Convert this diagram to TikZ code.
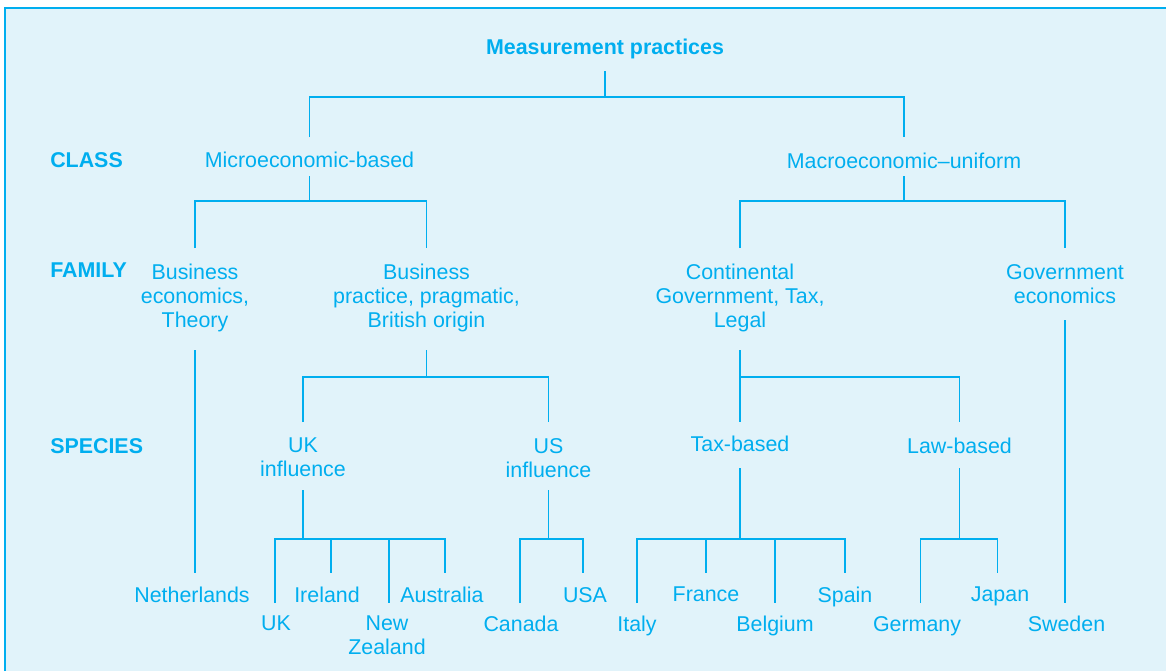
\documentclass[tikz,border=0pt]{standalone}
\usepackage{fontspec}
\setmainfont{Liberation Sans}
\definecolor{ink}{HTML}{00AEEF}
\definecolor{panel}{HTML}{E1F3FA}
\newcommand\diafont{\fontsize{16.05}{18}\selectfont}
\begin{document}
\begin{tikzpicture}[x=0.75pt,y=-0.75pt,
  lbl/.style={anchor=north, inner sep=0pt, align=center, text=ink, font=\diafont},
  head/.style={lbl, font=\diafont\bfseries},
  rank/.style={anchor=north west, inner sep=0pt, text=ink, font=\diafont\bfseries},
  link/.style={draw=ink, line width=0.9pt}]
\useasboundingbox (0,0) rectangle (1166,671);
% panel
\fill[panel] (5,8) rectangle (1166,671);
\draw[ink, line width=1pt] (5,671) -- (5,8) -- (1166,8);

% rank labels
\node[rank] (rclass)   at (50,152) {CLASS};
\node[rank] (rfamily)  at (50,263) {FAMILY};
\node[rank] (rspecies) at (50,438) {SPECIES};

% tree nodes
\node[head] (root) at (605,39) {Measurement practices};
\node[lbl] (micro) at (309.5,152) {Microeconomic-based};
\node[lbl] (macro) at (904,153) {Macroeconomic–uniform};
\node[lbl] (bizecon) at (195,264) {Business\\economics,\\Theory};
\node[lbl] (bizprac) at (426.5,264) {Business\\practice, pragmatic,\\British origin};
\node[lbl] (contl) at (740,264) {Continental\\Government, Tax,\\Legal};
\node[lbl] (goveco) at (1065,264) {Government\\economics};
\node[lbl] (ukinf) at (303,438) {UK\\influence};
\node[lbl] (usinf) at (548.5,438) {US\\influence};
\node[lbl] (taxb) at (740,436) {Tax-based};
\node[lbl] (lawb) at (959.5,438) {Law-based};

% countries, upper row
\node[lbl] (nether) at (192,587) {Netherlands};
\node[lbl] (ireland) at (327,587) {Ireland};
\node[lbl] (australia) at (442,587) {Australia};
\node[lbl] (usa) at (585,587) {USA};
\node[lbl] (france) at (706,587) {France};
\node[lbl] (spain) at (845,587) {Spain};
\node[lbl] (japan) at (1000,587) {Japan};
% countries, lower row
\node[lbl] (uk) at (276,616) {UK};
\node[lbl] (newz) at (387,616) {New\\Zealand};
\node[lbl] (canada) at (521,616) {Canada};
\node[lbl] (italy) at (637,616) {Italy};
\node[lbl] (belgium) at (775,616) {Belgium};
\node[lbl] (germany) at (917,616) {Germany};
\node[lbl] (sweden) at (1066.5,616) {Sweden};

% connector levels
\coordinate (rootOut) at (0,71);
\coordinate (barA) at (0,97);
\coordinate (classIn) at (0,137);
\coordinate (classOut) at (0,176);
\coordinate (barB) at (0,201);
\coordinate (famIn) at (0,248);
\coordinate (govOut) at (0,320);
\coordinate (famOut) at (0,350);
\coordinate (barC) at (0,377);
\coordinate (specIn) at (0,422);
\coordinate (taxOut) at (0,468);
\coordinate (infOut) at (0,490);
\coordinate (barD) at (0,539);
\coordinate (leafA) at (0,573);
\coordinate (leafB) at (0,603);

% measurement practices -> classes
\draw[link] (root |- rootOut) -- (root |- barA);
\draw[link] (micro |- classIn) |- (macro |- barA) -- (macro |- classIn);

% classes -> families
\draw[link] (micro |- classOut) -- (micro |- barB);
\draw[link] (bizecon |- famIn) |- (bizprac |- barB) -- (bizprac |- famIn);
\draw[link] (macro |- classOut) -- (macro |- barB);
\draw[link] (contl |- famIn) |- (goveco |- barB) -- (goveco |- famIn);

% families -> species
\draw[link] (bizecon |- famOut) -- (bizecon |- leafA);
\draw[link] (bizprac |- famOut) -- (bizprac |- barC);
\draw[link] (ukinf |- specIn) |- (usinf |- barC) -- (usinf |- specIn);
\draw[link] (contl |- famOut) -- (taxb |- specIn);
\draw[link] (taxb |- barC) -| (lawb |- specIn);
\draw[link] (goveco |- govOut) -- (goveco |- sweden.north |- leafB);

% species -> countries
\draw[link] (ukinf |- infOut) -- (ukinf |- barD);
\draw[link] ([xshift=-0.75pt]uk.north |- leafB) |- ([xshift=2.25pt]australia.north |- barD)
  -- ([xshift=2.25pt]australia.north |- leafA);
\draw[link] ([xshift=3pt]ireland.north |- barD) -- ([xshift=3pt]ireland.north |- leafA);
\draw[link] ([xshift=1.5pt]newz.north |- barD) -- ([xshift=1.5pt]newz.north |- leafB);

\draw[link] (usinf |- infOut) -- (usinf |- barD);
\draw[link] ([xshift=-0.75pt]canada.north |- leafB) |- ([xshift=-1.5pt]usa.north |- barD)
  -- ([xshift=-1.5pt]usa.north |- leafA);

\draw[link] (taxb |- taxOut) -- (taxb |- barD);
\draw[link] (italy |- leafB) |- (spain |- barD) -- (spain |- leafA);
\draw[link] (france |- barD) -- (france |- leafA);
\draw[link] (belgium |- barD) -- (belgium |- leafB);

\draw[link] (lawb |- taxOut) -- (lawb |- barD);
\draw[link] ([xshift=2.7pt]germany.north |- leafB) |- ([xshift=-1.9pt]japan.north |- barD)
  -- ([xshift=-1.9pt]japan.north |- leafA);
\end{tikzpicture}
\end{document}
